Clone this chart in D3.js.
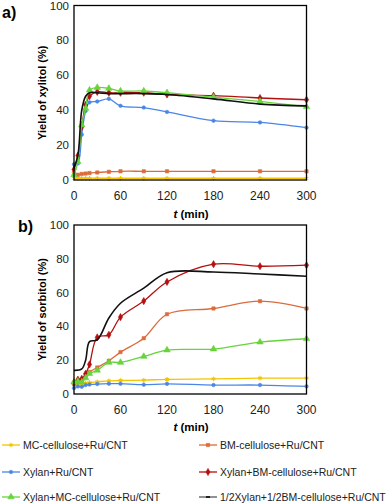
<!DOCTYPE html>
<html>
<head>
<meta charset="utf-8">
<script src="https://cdn.jsdelivr.net/npm/d3@7"></script>
<style>
  body { margin: 0; background: #fff; }
  text { font-family: "Liberation Sans", Arial, sans-serif; }
</style>
</head>
<body>
<svg></svg>
<script>
// time points (min)
let times = [0, 5, 10, 15, 20, 30, 45, 60, 90, 120, 180, 240, 300]
let xTicks = [0, 60, 120, 180, 240, 300]
let yTicks = [0, 20, 40, 60, 80, 100]

let seriesNames = ['MC-cellulose+Ru/CNT', 'BM-cellulose+Ru/CNT', 'Xylan+Ru/CNT',
                   'Xylan+BM-cellulose+Ru/CNT', 'Xylan+MC-cellulose+Ru/CNT', '1/2Xylan+1/2BM-cellulose+Ru/CNT']

// a) xylitol yield (%)
let xyMC    = [1, 1, 1, 1, 1, 1, 1, 1, 1, 1, 1, 1, 1]
let xyBM    = [4, 3, 3.5, 3.7, 4, 4.3, 4.7, 5, 5, 5, 5, 5, 5]
let xyXyl   = [9, 9.5, 26, 39.5, 44.5, 45, 46.5, 42.5, 41.5, 39, 34, 33, 30]
let xyXylBM = [6, 14, 30.5, 43, 48, 50.5, 50, 50, 50, 49, 48.3, 47, 46]
let xyXylMC = [3, 10.5, 31.5, 41, 51.5, 53, 52.5, 51, 51, 50, 47.5, 45, 42]
let xyHalf  = [7, 14, 40, 48, 50, 50, 49.5, 49.5, 49.5, 49, 46.5, 43.5, 42.5]

// b) sorbitol yield (%)
let soMC    = [5.5, 6, 6.3, 6.5, 6.8, 7.2, 7.8, 8, 8.2, 8.7, 8.9, 9.4, 9.4]
let soBM    = [6, 7.5, 8, 11, 13, 15.7, 19.7, 24.8, 33, 47.2, 50.6, 54.9, 50.6]
let soXyl   = [3.5, 4.5, 4.3, 5.3, 5.6, 5.9, 6.1, 6.1, 5.5, 6, 5.3, 5.3, 4.5]
let soXylBM = [6.9, 8.5, 9, 12, 17.5, 33.5, 35, 45.5, 55, 66.3, 76.8, 75.6, 76.2]
let soXylMC = [7, 7.5, 7, 9.5, 12, 14, 18.7, 18.7, 22.2, 26, 26.6, 30.7, 32.7]
let soHalf  = [14, 14.8, 20, 31, 32, 45, 53.7, 62.6, 71.8, 72.2, 71, 69.7]
let soHalfTimes = [0, 10, 15, 20, 30, 45, 60, 90, 120, 180, 240, 300]

let colors = ['#f5c400', '#dc6b3c', '#4a86e8', '#b50f0f', '#66d43a', '#111111']
let symbols = [d3.symbolAsterisk || d3.symbolTimes, d3.symbolSquare, d3.symbolCircle,
               d3.symbolDiamond, d3.symbolTriangle, null]
let symSizes = [14, 11, 10, 15, 18, 0]

let width = 392
let height = 504
let svg = d3.select('svg').attr('width', width).attr('height', height)

let drawPanel = (label, yTitle, top, bottom, data, tickY) => {
    let x = d3.scaleLinear().domain([0, 300]).range([74, 306.5])
    let y = d3.scaleLinear().domain([0, 100]).range([bottom, top])

    // y tick labels
    svg.append('g').selectAll('text').data(yTicks).enter().append('text')
        .attr('x', 69).attr('y', d => y(d)).attr('dy', '0.35em')
        .attr('text-anchor', 'end').attr('font-size', 11.5).attr('fill', '#222')
        .text(d => d)
    // x tick labels
    svg.append('g').selectAll('text').data(xTicks).enter().append('text')
        .attr('x', d => x(d)).attr('y', tickY).attr('dy', '0.35em')
        .attr('text-anchor', 'middle').attr('font-size', 12).attr('fill', '#222')
        .text(d => d)

    // series
    data.forEach((s, i) => {
        let pts = s.vals.map((v, k) => [s.t[k], v])
        let line = d3.line().x(d => x(d[0])).y(d => y(d[1])).curve(d3.curveCatmullRom.alpha(0.5))
        svg.append('path').attr('d', line(pts)).attr('fill', 'none')
            .attr('stroke', colors[i]).attr('stroke-width', i == 5 ? 1.6 : 1.3)
        if (symbols[i]) {
            svg.append('g').selectAll('path').data(pts).enter().append('path')
                .attr('d', d3.symbol().type(symbols[i]).size(symSizes[i]))
                .attr('transform', d => 'translate(' + x(d[0]) + ',' + y(d[1]) + ')')
                .attr('fill', colors[i]).attr('stroke', colors[i]).attr('stroke-width', i == 0 ? 1.1 : 0.6)
        }
    })

    // frame
    svg.append('rect').attr('x', x(0)).attr('y', top)
        .attr('width', x(300) - x(0)).attr('height', bottom - top)
        .attr('fill', 'none').attr('stroke', '#000').attr('stroke-width', 1.3)

    // panel label
    svg.append('text').attr('x', label.x).attr('y', label.y)
        .attr('font-size', 16).attr('font-weight', 'bold').text(label.text)

    // y axis title
    svg.append('text')
        .attr('transform', 'translate(' + 42 + ',' + ((top + bottom) / 2) + ') rotate(-90)')
        .attr('text-anchor', 'middle').attr('dy', '0.35em')
        .attr('font-size', 11).attr('font-weight', 'bold').text(yTitle)
}

let mk = (arrs, tArr) => arrs.map((v, i) => ({ vals: v, t: tArr && i == 5 ? tArr : times }))

drawPanel({ text: 'a)', x: 2, y: 18 }, 'Yield of xylitol (%)', 5.5, 180,
    mk([xyMC, xyBM, xyXyl, xyXylBM, xyXylMC, xyHalf]), 196)
drawPanel({ text: 'b)', x: 18, y: 232 }, 'Yield of sorbitol (%)', 225, 394,
    mk([soMC, soBM, soXyl, soXylBM, soXylMC, soHalf], soHalfTimes), 410)

// x axis titles
let xTitle = (yy) => {
    let t = svg.append('text').attr('x', 191).attr('y', yy).attr('dy', '0.35em')
        .attr('text-anchor', 'middle').attr('font-size', 11.5).attr('font-weight', 'bold')
    t.append('tspan').attr('font-style', 'italic').text('t')
    t.append('tspan').text(' (min)')
}
xTitle(214)
xTitle(427)

// legend
let legX = [2, 199]
let legY = [445, 472, 497]
seriesNames.forEach((name, i) => {
    let lx = legX[i % 2]
    let ly = legY[Math.floor(i / 2)]
    svg.append('line').attr('x1', lx).attr('x2', lx + 18).attr('y1', ly).attr('y2', ly)
        .attr('stroke', i == 5 ? '#555' : colors[i]).attr('stroke-width', 1.3)
    if (symbols[i]) {
        svg.append('path').attr('d', d3.symbol().type(symbols[i]).size(symSizes[i]))
            .attr('transform', 'translate(' + (lx + 9) + ',' + ly + ')')
            .attr('fill', colors[i]).attr('stroke', colors[i]).attr('stroke-width', i == 0 ? 1.1 : 0.6)
    } else {
        svg.append('line').attr('x1', lx + 7).attr('x2', lx + 11).attr('y1', ly).attr('y2', ly)
            .attr('stroke', '#000').attr('stroke-width', 1.5)
    }
    svg.append('text').attr('x', lx + 21).attr('y', ly).attr('dy', '0.35em')
        .attr('font-size', 10.5).attr('fill', '#222').text(name)
})
</script>
</body>
</html>
